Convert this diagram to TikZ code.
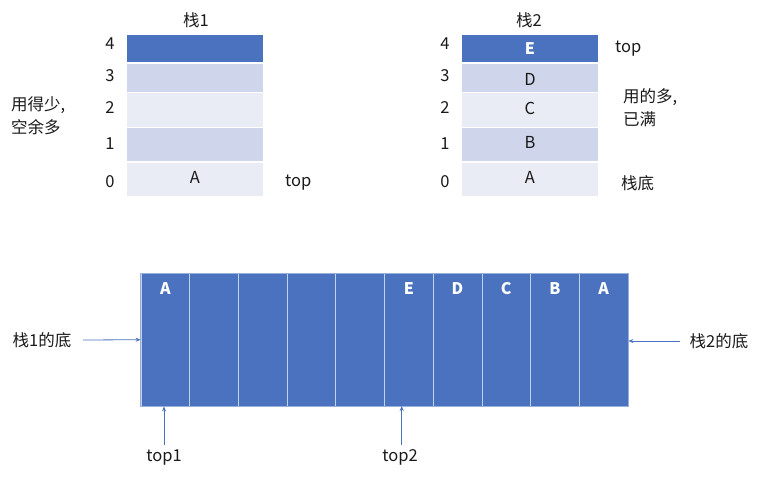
\documentclass[tikz,border=0pt]{standalone}
\usepackage{fontspec}
\setmainfont{Noto Sans CJK SC}
\usetikzlibrary{arrows.meta}
\definecolor{mblue}{HTML}{4A72BE}
\definecolor{lightA}{HTML}{CFD5EA}
\definecolor{lightB}{HTML}{E9EBF5}
\definecolor{edgeblue}{HTML}{9AB0DC}
\definecolor{txt}{HTML}{1A1A1A}
\tikzset{
  row/.style={minimum width=136pt, inner sep=0pt, draw=none},
  lbl/.style={font=\fontsize{16.5}{20}\selectfont, text=txt, inner sep=0pt},
  cell/.style={minimum width=48.7pt, minimum height=132.7pt, inner sep=0pt, fill=mblue, draw=edgeblue!60!white, line width=0.8pt},
  wl/.style={font=\fontsize{16}{19}\selectfont\bfseries, text=white, inner sep=0pt},
  arr/.style={draw=mblue, line width=0.8pt, -{Stealth[length=5pt,width=4pt]}}
}
\begin{document}
\begin{tikzpicture}[x=1pt,y=-1pt]
\useasboundingbox (0,0) rectangle (763,477);
% stack 1
\node[row, fill=mblue, minimum height=27pt] (s1r4) at (195,48.5) {};
\node[row, fill=lightA, minimum height=28pt] (s1r3) at (195,78) {};
\node[row, fill=lightB, minimum height=34pt] (s1r2) at (195,110) {};
\node[row, fill=lightA, minimum height=33pt] (s1r1) at (195,144.5) {};
\node[row, fill=lightB, minimum height=33pt] (s1r0) at (195,179.5) {};
\node[lbl] (s1t) at (196,20) {栈1};
\node[lbl] (s1a) at (195,177) {A};
\node[lbl] (s1i4) at (110,44) {4};
\node[lbl] (s1i3) at (110,76) {3};
\node[lbl] (s1i2) at (110,108) {2};
\node[lbl] (s1i1) at (110,144) {1};
\node[lbl] (s1i0) at (110,182) {0};
\node[lbl, anchor=west] (s1top) at (285,183) {top};
\node[lbl, anchor=west, align=left, font=\fontsize{16.5}{23}\selectfont] (s1note) at (11,116) {用得少,\\空余多};
% stack 2
\node[row, fill=mblue, minimum height=27pt] (s2r4) at (530,48.5) {};
\node[row, fill=lightA, minimum height=28pt] (s2r3) at (530,78) {};
\node[row, fill=lightB, minimum height=34pt] (s2r2) at (530,110) {};
\node[row, fill=lightA, minimum height=33pt] (s2r1) at (530,144.5) {};
\node[row, fill=lightB, minimum height=33pt] (s2r0) at (530,179.5) {};
\node[lbl] (s2t) at (529,20) {栈2};
\node[wl] (s2e) at (530,49) {E};
\node[lbl] (s2d) at (530,79) {D};
\node[lbl] (s2c) at (530,108) {C};
\node[lbl] (s2b) at (530,142) {B};
\node[lbl] (s2a) at (530,177) {A};
\node[lbl] (s2i4) at (445,44) {4};
\node[lbl] (s2i3) at (445,76) {3};
\node[lbl] (s2i2) at (445,108) {2};
\node[lbl] (s2i1) at (445,144) {1};
\node[lbl] (s2i0) at (445,182) {0};
\node[lbl, anchor=west] (s2top) at (615,49) {top};
\node[lbl, anchor=west, align=left, font=\fontsize{16.5}{23}\selectfont] (s2note) at (623,108) {用的多,\\已满};
\node[lbl, anchor=west] (s2bot) at (621,183) {栈底};
% array
\foreach \i in {1,...,10} {
  \node[cell] (c\i) at ({141+48.7*(\i-0.5)},339.7) {};
}
\draw[edgeblue, line width=0.8pt] (c1.north west) rectangle (c10.south east);
\node[wl] (a1) at (c1 |- 0,289) {A};
\node[wl] (a6) at (c6 |- 0,289) {E};
\node[wl] (a7) at (c7 |- 0,289) {D};
\node[wl] (a8) at (c8 |- 0,289) {C};
\node[wl] (a9) at (c9 |- 0,289) {B};
\node[wl] (a10) at (c10 |- 0,289) {A};
% arrows
\node[lbl] (b1) at (42,340) {栈1的底};
\node[lbl] (b2) at (719,341) {栈2的底};
\coordinate (b1s) at (83,340);
\coordinate (b2s) at (680,341);
\draw[arr] (b1s) -- (c1.west);
\draw[arr] (b2s) -- (c10.east |- b2s);
\node[lbl] (t1) at (164,457) {top1};
\node[lbl] (t2) at (400,457) {top2};
\coordinate (t1s) at (164,445);
\coordinate (t2s) at (401.7,445);
\coordinate (t2e) at (401.7,406);
\draw[arr] (t1s) -- (t1s |- c1.south);
\draw[arr] (t2s) -- (t2e);
\end{tikzpicture}
\end{document}
